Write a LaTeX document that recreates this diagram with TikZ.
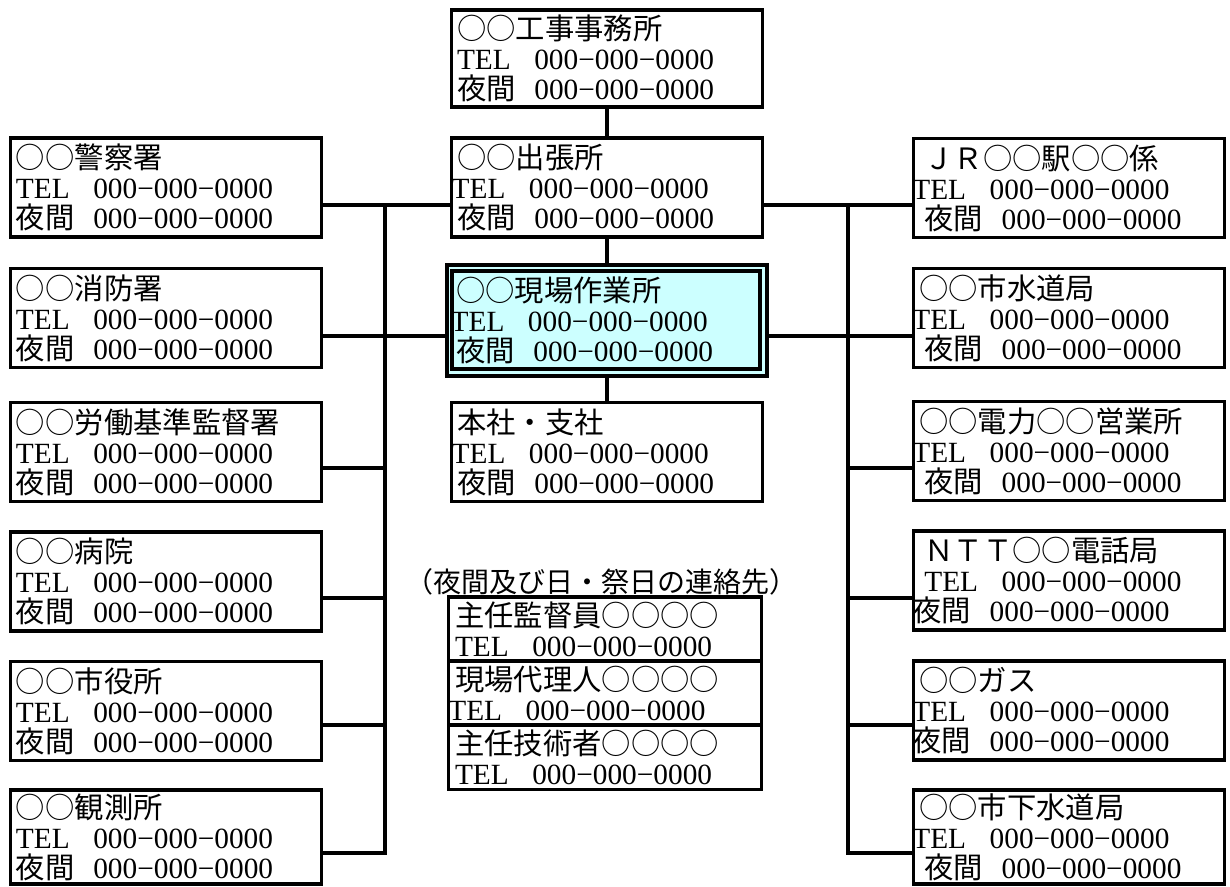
\documentclass[tikz,border=0pt]{standalone}
\usepackage{fontspec}
\setmainfont{Liberation Serif}
\newfontfamily\jp{Noto Sans CJK JP}
\definecolor{genbafill}{RGB}{204,255,255}
\newcommand\jpn[1]{{\jp #1}}
\newcommand\telrow[1][0pt]{\hspace*{#1}\makebox[58pt][l]{TEL}000−000−0000}
\newcommand\nightrow[1][0pt]{\hspace*{#1}\makebox[58pt][l]{\jp 夜間}000−000−0000}
\tikzset{
  orgbox/.style={draw, line width=2.6pt, fill=white, minimum width=233pt, minimum height=74pt,
    text width=225pt, align=left, inner xsep=3pt, inner ysep=0pt,
    font=\fontsize{22}{22.5}\selectfont},
  contactbox/.style={orgbox, minimum width=235pt, minimum height=48pt},
  link/.style={line width=3pt, line cap=rect},
  caption/.style={font=\fontsize{21}{22}\selectfont\jp, inner sep=0pt}
}
\begin{document}
\begin{tikzpicture}[x=0.75pt,y=-0.75pt]
\useasboundingbox (0,0) rectangle (1230,887);

% bus coordinates
\coordinate (l1) at (385,205);
\coordinate (l2) at (385,336);
\coordinate (l3) at (385,468);
\coordinate (l4) at (385,598);
\coordinate (l5) at (385,725);
\coordinate (l6) at (385,853);
\coordinate (r1) at (848,205);
\coordinate (r2) at (848,336);
\coordinate (r3) at (848,468);
\coordinate (r4) at (848,598);
\coordinate (r5) at (848,725);
\coordinate (r6) at (848,853);

% centre column
\node[orgbox, minimum height=72.75pt] (koji) at (607,58.5)
  {\jpn{○○工事事務所}\\\telrow\\\nightrow};
\node[orgbox] (shuccho) at (607,187.5)
  {\jpn{○○出張所}\\\telrow[-4pt]\\\nightrow};
\node[draw, line width=2.6pt, fill=genbafill, minimum width=240pt, minimum height=83pt] (genbaout) at (607,320.5) {};
\node[orgbox, fill=genbafill, minimum width=231pt, minimum height=73.5pt] (genba) at (606,320)
  {\jpn{○○現場作業所}\\\telrow[-4pt]\\\nightrow};
\node[orgbox] (honsha) at (607,452)
  {\jpn{本社・支社}\\\telrow[-4pt]\\\nightrow};

% caption and contact box
\node[caption] (capt) at (601,582) {（夜間及び日・祭日の連絡先）};
\node[contactbox] (c1) at (605,629) {\jpn{主任監督員○○○○}\\\telrow};
\node[contactbox] (c2) at (605,693) {\jpn{現場代理人○○○○}\\\telrow[-5pt]};
\node[contactbox] (c3) at (605,757.5) {\jpn{主任技術者○○○○}\\\telrow};

% left column
\node[orgbox] (police) at (166,187.5) {\jpn{○○警察署}\\\telrow\\\nightrow};
\node[orgbox] (fire) at (166,318) {\jpn{○○消防署}\\\telrow\\\nightrow};
\node[orgbox] (labour) at (166,452) {\jpn{○○労働基準監督署}\\\telrow\\\nightrow};
\node[orgbox] (hospital) at (166,581.5) {\jpn{○○病院}\\\telrow\\\nightrow};
\node[orgbox] (cityhall) at (166,711) {\jpn{○○市役所}\\\telrow\\\nightrow};
\node[orgbox, minimum height=70.5pt] (observ) at (166,837) {\jpn{○○観測所}\\\telrow\\\nightrow};

% right column
\node[orgbox] (jr) at (1069,188) {\hspace*{4pt}\jpn{ＪＲ○○駅○○係}\\\telrow[-5pt]\\\nightrow[4pt]};
\node[orgbox] (water) at (1069,318) {\jpn{○○市水道局}\\\telrow[-5pt]\\\nightrow[4pt]};
\node[orgbox] (power) at (1069,451) {\jpn{○○電力○○営業所}\\\telrow[-5pt]\\\nightrow[4pt]};
\node[orgbox] (ntt) at (1069,580.5) {\hspace*{4pt}\jpn{ＮＴＴ○○電話局}\\\telrow[4pt]\\\nightrow[-5pt]};
\node[orgbox] (gas) at (1069,710.5) {\jpn{○○ガス}\\\telrow[-5pt]\\\nightrow[-5pt]};
\node[orgbox, minimum height=70.5pt] (sewer) at (1069,837) {\jpn{○○市下水道局}\\\telrow[-5pt]\\\nightrow[4pt]};

% connectors
\draw[link] (koji.south) -- (shuccho.north);
\draw[link] (shuccho.south) -- (genbaout.north);
\draw[link] (genbaout.south) -- (honsha.north);

\draw[link] (l1) -- (l6);
\draw[link] (r1) -- (r6);

\draw[link] (shuccho.west |- l1) -- (l1);
\draw[link] (shuccho.east |- r1) -- (r1);
\draw[link] (genbaout.west |- l2) -- (l2);
\draw[link] (genbaout.east |- r2) -- (r2);

\draw[link] (police.east |- l1) -- (l1);
\draw[link] (fire.east |- l2) -- (l2);
\draw[link] (labour.east |- l3) -- (l3);
\draw[link] (hospital.east |- l4) -- (l4);
\draw[link] (cityhall.east |- l5) -- (l5);
\draw[link] (observ.east |- l6) -- (l6);

\draw[link] (jr.west |- r1) -- (r1);
\draw[link] (water.west |- r2) -- (r2);
\draw[link] (power.west |- r3) -- (r3);
\draw[link] (ntt.west |- r4) -- (r4);
\draw[link] (gas.west |- r5) -- (r5);
\draw[link] (sewer.west |- r6) -- (r6);
\end{tikzpicture}
\end{document}
